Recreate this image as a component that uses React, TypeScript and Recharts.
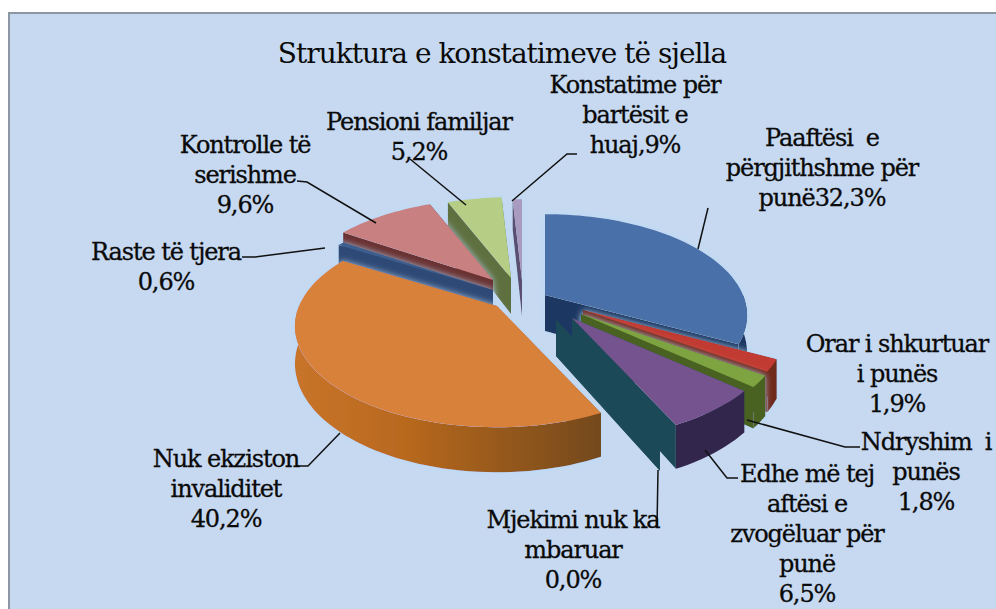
// Pie 3D explodido — estrutura das constatações
import { PieChart, Pie } from 'recharts'

const names = [
  'Paaftësi e përgjithshme për punë',
  'Orar i shkurtuar i punës',
  'Ndryshim i punës',
  'Edhe më tej aftësi e zvogëluar për punë',
  'Mjekimi nuk ka mbaruar',
  'Nuk ekziston invaliditet',
  'Raste të tjera',
  'Kontrolle të serishme',
  'Pensioni familjar',
  'Konstatime për bartësit e huaj',
]
const values = [32.3, 1.9, 1.8, 6.5, 0.0, 40.2, 0.6, 9.6, 5.2, 0.9]

const labelLines = [
  ['Paaftësi  e', 'përgjithshme për', 'punë32,3%'],
  ['Orar i shkurtuar', 'i punës', '1,9%'],
  ['Ndryshim  i', 'punës', '1,8%'],
  ['Edhe më tej', 'aftësi e', 'zvogëluar për', 'punë', '6,5%'],
  ['Mjekimi nuk ka', 'mbaruar', '0,0%'],
  ['Nuk ekziston', 'invaliditet', '40,2%'],
  ['Raste të tjera', '0,6%'],
  ['Kontrolle të', 'serishme', '9,6%'],
  ['Pensioni familjar', '5,2%'],
  ['Konstatime për', 'bartësit e', 'huaj,9%'],
]

const chartData = names.map((name, i) => ({ name, value: values[i] }))

// painter order: back slices first, orange last
const drawOrder = [9, 8, 7, 6, 0, 1, 2, 4, 3, 5]

// visual style per slice
const sliceStyles = [
  { top: '#4870a8', wall: '#1d3862', shift: [20, 0] },
  { top: '#c23a30', wall: '#6f2a1e', shift: [58, 15] },
  { top: '#7da440', wall: '#4a6224', shift: [56, 19] },
  { top: '#75538f', wall: '#33264d', face: '#1c4a58', flat: true, shift: [47, 23] },
  { top: '#1c4a58', wall: '#1c4a58', flat: true, shift: [31, 25] },
  { top: '#d8813a', wall: 'url(#orangeWall)', shift: [-28, 11] },
  { top: '#3e5f90', wall: '#2f4a75', shift: [-32, -5] },
  { top: '#c98080', wall: '#6b3030', shift: [-32, -15] },
  { top: '#b5cd85', wall: '#5e7040', shift: [-14, -17] },
  { top: '#a99bc0', wall: '#5a4f70', shift: [-3, -15] },
]

const labelStyles = [
  { x: 822, y: 146, leader: '708,208 698,249' },
  { x: 897, y: 352, leader: '' },
  { x: 926, y: 450, leader: '860,447 845,447 747,420' },
  { x: 807, y: 482, leader: '738,478 727,478 705,450' },
  { x: 573, y: 528, leader: '658,470 657,527' },
  { x: 226, y: 467, leader: '297,466 308,466 340,433' },
  { x: 166, y: 260, leader: '242,257 255,257 325,248' },
  { x: 245, y: 153, leader: '297,181 307,182 376,223' },
  { x: 419, y: 130, leader: '410,159 466,205' },
  { x: 635, y: 93, leader: '577,154 567,154 512,201' },
]

const TILT = 0.49
const PERSPECTIVE = 0.2
const DEPTH = 36
const FONT = '"DejaVu Serif", serif'

function makeProjector(cx: number, cy: number, radius: number, shift: number[]) {
  return (theta: number, r: number, low: boolean) => {
    const rad = (theta * Math.PI) / 180
    const u = Math.sin(rad) * r
    const v = -Math.cos(rad) * r
    const s = 1 / (1 - PERSPECTIVE * v)
    const x = cx + shift[0] + radius * u * s
    const y = cy + shift[1] + radius * TILT * v * s + (low ? DEPTH * s : 0)
    return `${x.toFixed(1)},${y.toFixed(1)}`
  }
}

function angleRange(a: number, b: number) {
  const out: number[] = []
  for (let t = a; t < b; t += 2) out.push(t)
  out.push(b)
  return out
}

function renderSlice(layer: number) {
  return (props: any) => {
    if (props.index !== layer) return <g />
    const { cx, cy, outerRadius, startAngle, endAngle } = props
    const style = sliceStyles[layer]
    const project = makeProjector(cx, cy, outerRadius, style.shift)
    const a = 90 - startAngle
    const b = 90 - endAngle
    const face = (t: number) =>
      [project(t, 0, false), project(t, 1, false), project(t, 1, true), project(t, 0, true)].join(' ')

    const wallFrom = Math.max(a, 90)
    const wallTo = Math.min(b, 270)
    const rim = wallTo > wallFrom ? angleRange(wallFrom, wallTo) : []
    const wall = [
      ...rim.map(t => project(t, 1, false)),
      ...[...rim].reverse().map(t => project(t, 1, true)),
    ].join(' ')
    const topFace = [project(a, 0, false), ...angleRange(a, b).map(t => project(t, 1, false))].join(' ')
    const faceFill = style.face ?? style.wall

    return (
      <g filter={style.flat ? 'url(#blurOnly)' : 'url(#soft)'}>
        <polygon points={face(a)} fill={faceFill} />
        <polygon points={face(b)} fill={faceFill} />
        {rim.length > 0 && <polygon points={wall} fill={style.wall} />}
        {b > a && <polygon points={topFace} fill={style.top} />}
      </g>
    )
  }
}

function renderLabel(props: any) {
  const i = props.index
  const pos = labelStyles[i]
  return (
    <g key={i}>
      {pos.leader && <polyline points={pos.leader} fill="none" stroke="#111" strokeWidth={1.5} />}
      <text
        x={pos.x}
        y={pos.y}
        textAnchor="middle"
        fontFamily={FONT}
        fontSize={24}
        letterSpacing={-1.1}
        fill="#0a0a0a"
        stroke="#0a0a0a"
        strokeWidth={0.3}
      >
        {labelLines[i].map((line, n) => (
          <tspan key={n} x={pos.x} dy={n === 0 ? 0 : 30} style={{ whiteSpace: 'pre' }}>
            {line}
          </tspan>
        ))}
      </text>
    </g>
  )
}

export default function App() {
  return (
    <div style={{ position: 'absolute', left: 0, top: 0, width: 996, height: 609, background: '#fff', overflow: 'hidden' }}>
      <div
        style={{
          position: 'absolute',
          left: 8,
          top: 12,
          width: 990,
          height: 610,
          background: '#c6d9f1',
          border: '2px solid #8c97a3',
        }}
      />
      <div style={{ position: 'absolute', left: 0, top: 0 }}>
        <PieChart width={996} height={609} margin={{ top: 0, right: 0, bottom: 0, left: 0 }}>
          <defs>
            <linearGradient id="orangeWall" x1="0" y1="0" x2="1" y2="0">
              <stop offset="0%" stopColor="#c8742a" />
              <stop offset="35%" stopColor="#b9691f" />
              <stop offset="100%" stopColor="#74491a" />
            </linearGradient>
            <filter id="soft" filterUnits="userSpaceOnUse" x="0" y="0" width="996" height="609">
              <feGaussianBlur stdDeviation="0.7" result="body" />
              <feDropShadow in="body" dx="0" dy="0" stdDeviation="3" floodColor="#b9d9f7" floodOpacity="0.8" />
            </filter>
            <filter id="blurOnly" filterUnits="userSpaceOnUse" x="0" y="0" width="996" height="609">
              <feGaussianBlur stdDeviation="0.7" />
            </filter>
          </defs>
          {drawOrder.map((layer, n) => {
            const shape = renderSlice(layer)
            return (
              <Pie
                key={layer}
                data={chartData}
                dataKey="value"
                nameKey="name"
                cx={525}
                cy={295}
                innerRadius={0}
                outerRadius={198}
                startAngle={90}
                endAngle={-270}
                stroke="none"
                shape={shape}
                inactiveShape={shape}
                activeShape={shape}
                label={n === drawOrder.length - 1 ? renderLabel : false}
                labelLine={false}
                isAnimationActive={false}
              />
            )
          })}
          <text x={502} y={63} textAnchor="middle" fontFamily={FONT} fontSize={28} letterSpacing={-1} fill="#0a0a0a">
            Struktura  e konstatimeve të sjella
          </text>
        </PieChart>
      </div>
    </div>
  )
}
